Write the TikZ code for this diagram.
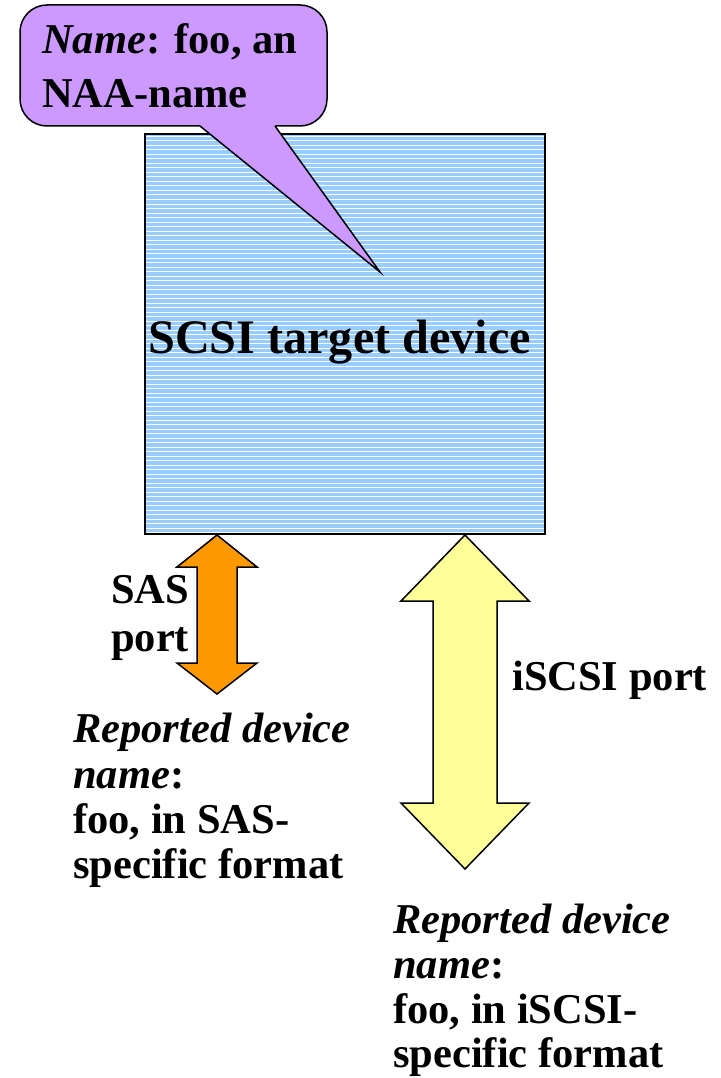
\documentclass[tikz,border=0pt]{standalone}
\usepackage{fontspec}
\setmainfont{Liberation Serif}
\definecolor{devblue}{HTML}{99CCFF}
\definecolor{bubble}{HTML}{CC99FF}
\definecolor{sasor}{HTML}{FF9900}
\definecolor{iscsiy}{HTML}{FFFF99}
\begin{document}
\begin{tikzpicture}[x=1pt,y=-1pt,
  outl/.style={draw=black,line width=1.5pt,line join=miter},
  lbl/.style={inner sep=0pt,anchor=base west,font=\fontsize{42.5}{48}\selectfont\bfseries},
  biglbl/.style={inner sep=0pt,anchor=base west,font=\fontsize{48.2}{55}\selectfont\bfseries},
  devbox/.style={rectangle,fill=devblue,minimum width=400pt,minimum height=400pt,inner sep=0pt}]
\useasboundingbox (0,0) rectangle (720,1078);
% device box
\node[devbox] (dev) at (345,334) {};
\foreach \yy in {136.5,141,...,533}{
  \draw[white,line width=1pt] (145,\yy) -- (545,\yy);
}
\draw[line width=1.5pt] (dev.south west) rectangle (dev.north east);
\node[biglbl] (devlabel) at (148,353) {SCSI target device};
% callout bubble
\coordinate (tip) at (380,272);
\coordinate (tl) at (200,126);
\coordinate (tr) at (275,126);
\draw[outl,fill=bubble,rounded corners=27pt] (20,5) rectangle (327,126);
\fill[bubble] (200,122) -- (275,122) -- (tr) -- (tip) -- (tl) -- cycle;
\draw[outl] (tl) -- (tip) -- (tr);
\node[lbl] (name1) at (42,54) {\textit{Name}\/: foo, an};
\node[lbl] (name2) at (42,108) {NAA-name};
% SAS arrow
\draw[outl,fill=sasor] (217,535) -- (257,567) -- (237,567) -- (237,663) -- (257,663) -- (217,694)
  -- (177,663) -- (197,663) -- (197,567) -- (177,567) -- cycle;
\node[lbl] (sas1) at (111,603) {SAS};
\node[lbl] (sas2) at (111,651) {port};
% iSCSI arrow
\draw[outl,fill=iscsiy] (465,535) -- (529,601) -- (497,601) -- (497,803) -- (529,803) -- (465,869)
  -- (401,803) -- (433,803) -- (433,601) -- (401,601) -- cycle;
\node[lbl] (isc) at (512,690) {iSCSI port};
% left reported name
\node[lbl] (l1) at (73,742) {\textit{Reported device}};
\node[lbl] (l2) at (73,788) {\textit{name}\/:};
\node[lbl] (l3) at (73,833) {foo, in SAS-};
\node[lbl] (l4) at (73,878) {specific format};
% right reported name
\node[lbl] (r1) at (393,933) {\textit{Reported device}};
\node[lbl] (r2) at (393,978) {\textit{name}\/:};
\node[lbl] (r3) at (393,1023) {foo, in iSCSI-};
\node[lbl] (r4) at (393,1067) {specific format};
\end{tikzpicture}
\end{document}
